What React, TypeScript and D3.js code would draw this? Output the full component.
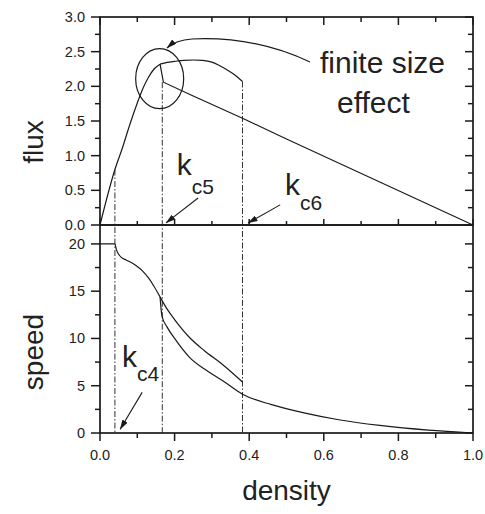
import * as d3 from 'd3'

// density break points (dash-dot guides)
const kGuides = [
  { k: 0.040, flux: 0.80 },
  { k: 0.167, flux: 2.06 },
  { k: 0.382, flux: 2.07 },
]

// flux vs density
const fluxFree = [[0, 0], [0.04, 0.8], [0.06, 1.11], [0.08, 1.45], [0.1, 1.76], [0.115, 1.97], [0.13, 2.13], [0.145, 2.25], [0.161, 2.32]]
const fluxUpper = [[0.161, 2.32], [0.18, 2.345], [0.2, 2.36], [0.225, 2.375], [0.25, 2.38], [0.275, 2.375], [0.3, 2.35], [0.32, 2.3], [0.34, 2.24], [0.36, 2.17], [0.382, 2.07]]
const fluxLower = [[0.161, 2.32], [0.17, 2.06], [0.25, 1.86], [0.382, 1.54], [0.5, 1.24], [0.75, 0.62], [1.0, 0]]

// speed vs density
const speedFree = [[0, 20], [0.04, 20], [0.044, 19.4], [0.05, 18.9], [0.058, 18.55], [0.07, 18.3], [0.085, 18.0], [0.1, 17.6], [0.115, 17.1], [0.13, 16.4], [0.145, 15.5], [0.161, 14.4]]
const speedUpper = [[0.161, 14.4], [0.18, 13.1], [0.2, 12.0], [0.24, 10.1], [0.28, 8.7], [0.33, 7.2], [0.382, 5.4]]
const speedLower = [[0.161, 14.4], [0.166, 12.4], [0.18, 11.2], [0.2, 10.0], [0.24, 8.0], [0.29, 6.5], [0.33, 5.5], [0.382, 4.1], [0.46, 3.0], [0.55, 2.1], [0.64, 1.4], [0.75, 0.8], [0.88, 0.3], [1.0, 0]]

const xTicks = [0, 0.2, 0.4, 0.6, 0.8, 1.0]
const xMinor = [0.1, 0.3, 0.5, 0.7, 0.9]
const fluxTicks = [0, 0.5, 1.0, 1.5, 2.0, 2.5, 3.0]
const fluxMinor = [0.25, 0.75, 1.25, 1.75, 2.25, 2.75]
const speedTicks = [0, 5, 10, 15, 20]
const speedMinor = [2.5, 7.5, 12.5, 17.5]

const W = 485, H = 514
const FONT = 'Liberation Sans, Arial, Helvetica, sans-serif'
const INK = '#1a1a1a'

export default function App() {
  const x = d3.scaleLinear().domain([0, 1]).range([100, 473])
  const yF = d3.scaleLinear().domain([0, 3]).range([225, 17])
  const yS = d3.scaleLinear().domain([0, 22]).range([433, 225])

  const smoothF = d3.line<number[]>().x(d => x(d[0])).y(d => yF(d[1])).curve(d3.curveMonotoneX)
  const straightF = d3.line<number[]>().x(d => x(d[0])).y(d => yF(d[1]))
  const smoothS = d3.line<number[]>().x(d => x(d[0])).y(d => yS(d[1])).curve(d3.curveMonotoneX)

  const [x0, x1] = x.range()
  const dash = '6,2,1.5,2'

  return (
    <svg width={W} height={H} style={{ position: 'absolute', left: 0, top: 0, background: '#fff' }} fontFamily={FONT}>
      <defs>
        <marker id="arr" viewBox="0 0 10 6" refX="9.5" refY="3" markerWidth="10" markerHeight="6" markerUnits="userSpaceOnUse" orient="auto">
          <path d="M0,0 L10,3 L0,6 z" fill={INK} />
        </marker>
      </defs>

      {/* guides */}
      {kGuides.map((g, i) => (
        <line key={i} x1={x(g.k)} x2={x(g.k)} y1={yF(g.flux)} y2={yS(0)} stroke={INK} strokeWidth={0.9} strokeDasharray={dash} />
      ))}

      {/* curves */}
      <g fill="none" stroke={INK} strokeWidth={1.2}>
        <path d={smoothF(fluxFree) || ''} />
        <path d={smoothF(fluxUpper) || ''} />
        <path d={straightF(fluxLower) || ''} />
        <path d={smoothS(speedFree) || ''} />
        <path d={smoothS(speedUpper) || ''} />
        <path d={smoothS(speedLower) || ''} />
      </g>

      {/* frames */}
      <rect x={x0} y={yF(3)} width={x1 - x0} height={yF(0) - yF(3)} fill="none" stroke={INK} strokeWidth={1.7} />
      <rect x={x0} y={yS(22)} width={x1 - x0} height={yS(0) - yS(22)} fill="none" stroke={INK} strokeWidth={1.7} />

      {/* ticks */}
      <g stroke={INK} strokeWidth={1.5}>
        {xTicks.map(v => (
          <g key={v}>
            <line x1={x(v)} x2={x(v)} y1={yF(3)} y2={yF(3) + 8} />
            <line x1={x(v)} x2={x(v)} y1={yF(0)} y2={yF(0) - 6} />
            <line x1={x(v)} x2={x(v)} y1={yS(0)} y2={yS(0) + 8} />
          </g>
        ))}
        {xMinor.map(v => (
          <g key={v}>
            <line x1={x(v)} x2={x(v)} y1={yF(3)} y2={yF(3) + 5} />
            <line x1={x(v)} x2={x(v)} y1={yF(0)} y2={yF(0) - 4} />
            <line x1={x(v)} x2={x(v)} y1={yS(0)} y2={yS(0) + 5} />
          </g>
        ))}
        {fluxTicks.map(v => (
          <g key={v}>
            <line x1={x0} x2={x0 - 9} y1={yF(v)} y2={yF(v)} />
            <line x1={x1} x2={x1 - 8} y1={yF(v)} y2={yF(v)} />
          </g>
        ))}
        {fluxMinor.map(v => (
          <g key={v}>
            <line x1={x0} x2={x0 - 5} y1={yF(v)} y2={yF(v)} />
            <line x1={x1} x2={x1 - 5} y1={yF(v)} y2={yF(v)} />
          </g>
        ))}
        {speedTicks.map(v => (
          <g key={v}>
            <line x1={x0} x2={x0 - 9} y1={yS(v)} y2={yS(v)} />
            <line x1={x1} x2={x1 - 8} y1={yS(v)} y2={yS(v)} />
          </g>
        ))}
        {speedMinor.map(v => (
          <g key={v}>
            <line x1={x0} x2={x0 - 5} y1={yS(v)} y2={yS(v)} />
            <line x1={x1} x2={x1 - 5} y1={yS(v)} y2={yS(v)} />
          </g>
        ))}
      </g>

      {/* tick labels */}
      <g fill="#222" fontSize={14.5}>
        {xTicks.map(v => (
          <text key={v} x={x(v)} y={yS(0) + 27} textAnchor="middle">{v.toFixed(1)}</text>
        ))}
        {fluxTicks.map(v => (
          <text key={v} x={85} y={yF(v) + 5} textAnchor="end">{v.toFixed(1)}</text>
        ))}
        {speedTicks.map(v => (
          <text key={v} x={85} y={yS(v) + 5} textAnchor="end">{v}</text>
        ))}
      </g>

      {/* axis titles */}
      <g fill="#222" fontSize={28}>
        <text transform={`translate(43,${142}) rotate(-90)`} textAnchor="middle">flux</text>
        <text transform={`translate(43,${352}) rotate(-90)`} textAnchor="middle">speed</text>
        <text x={(x0 + x1) / 2} y={500} textAnchor="middle">density</text>
      </g>

      {/* finite size annotation */}
      <ellipse cx={x(0.16)} cy={yF(2.11)} rx={24} ry={30} fill="none" stroke={INK} strokeWidth={1.2} />
      <path d="M310,62 Q255,36 192,39 Q176,40 167,48" fill="none" stroke={INK} strokeWidth={1.2} markerEnd="url(#arr)" />
      <g fill="#222" fontSize={30}>
        <text x={320} y={73}>finite size</text>
        <text x={337} y={113}>effect</text>
      </g>

      {/* critical densities */}
      <g fill="#222">
        <text x={x(0.206)} y={yF(0.72)} fontSize={30}>k<tspan fontSize={21} dy={19}>c5</tspan></text>
        <text x={x(0.496)} y={yF(0.43)} fontSize={30}>k<tspan fontSize={21} dy={15}>c6</tspan></text>
        <text x={x(0.059)} y={yS(7)} fontSize={30}>k<tspan fontSize={21} dy={14}>c4</tspan></text>
      </g>
      <g stroke={INK} strokeWidth={1.1}>
        <line x1={x(0.263)} y1={yF(0.39)} x2={x(0.177)} y2={yF(0.03)} markerEnd="url(#arr)" />
        <line x1={x(0.483)} y1={yF(0.29)} x2={x(0.397)} y2={yF(0.03)} markerEnd="url(#arr)" />
        <line x1={x(0.113)} y1={yS(4.3)} x2={x(0.054)} y2={yS(0.4)} markerEnd="url(#arr)" />
      </g>
    </svg>
  )
}
